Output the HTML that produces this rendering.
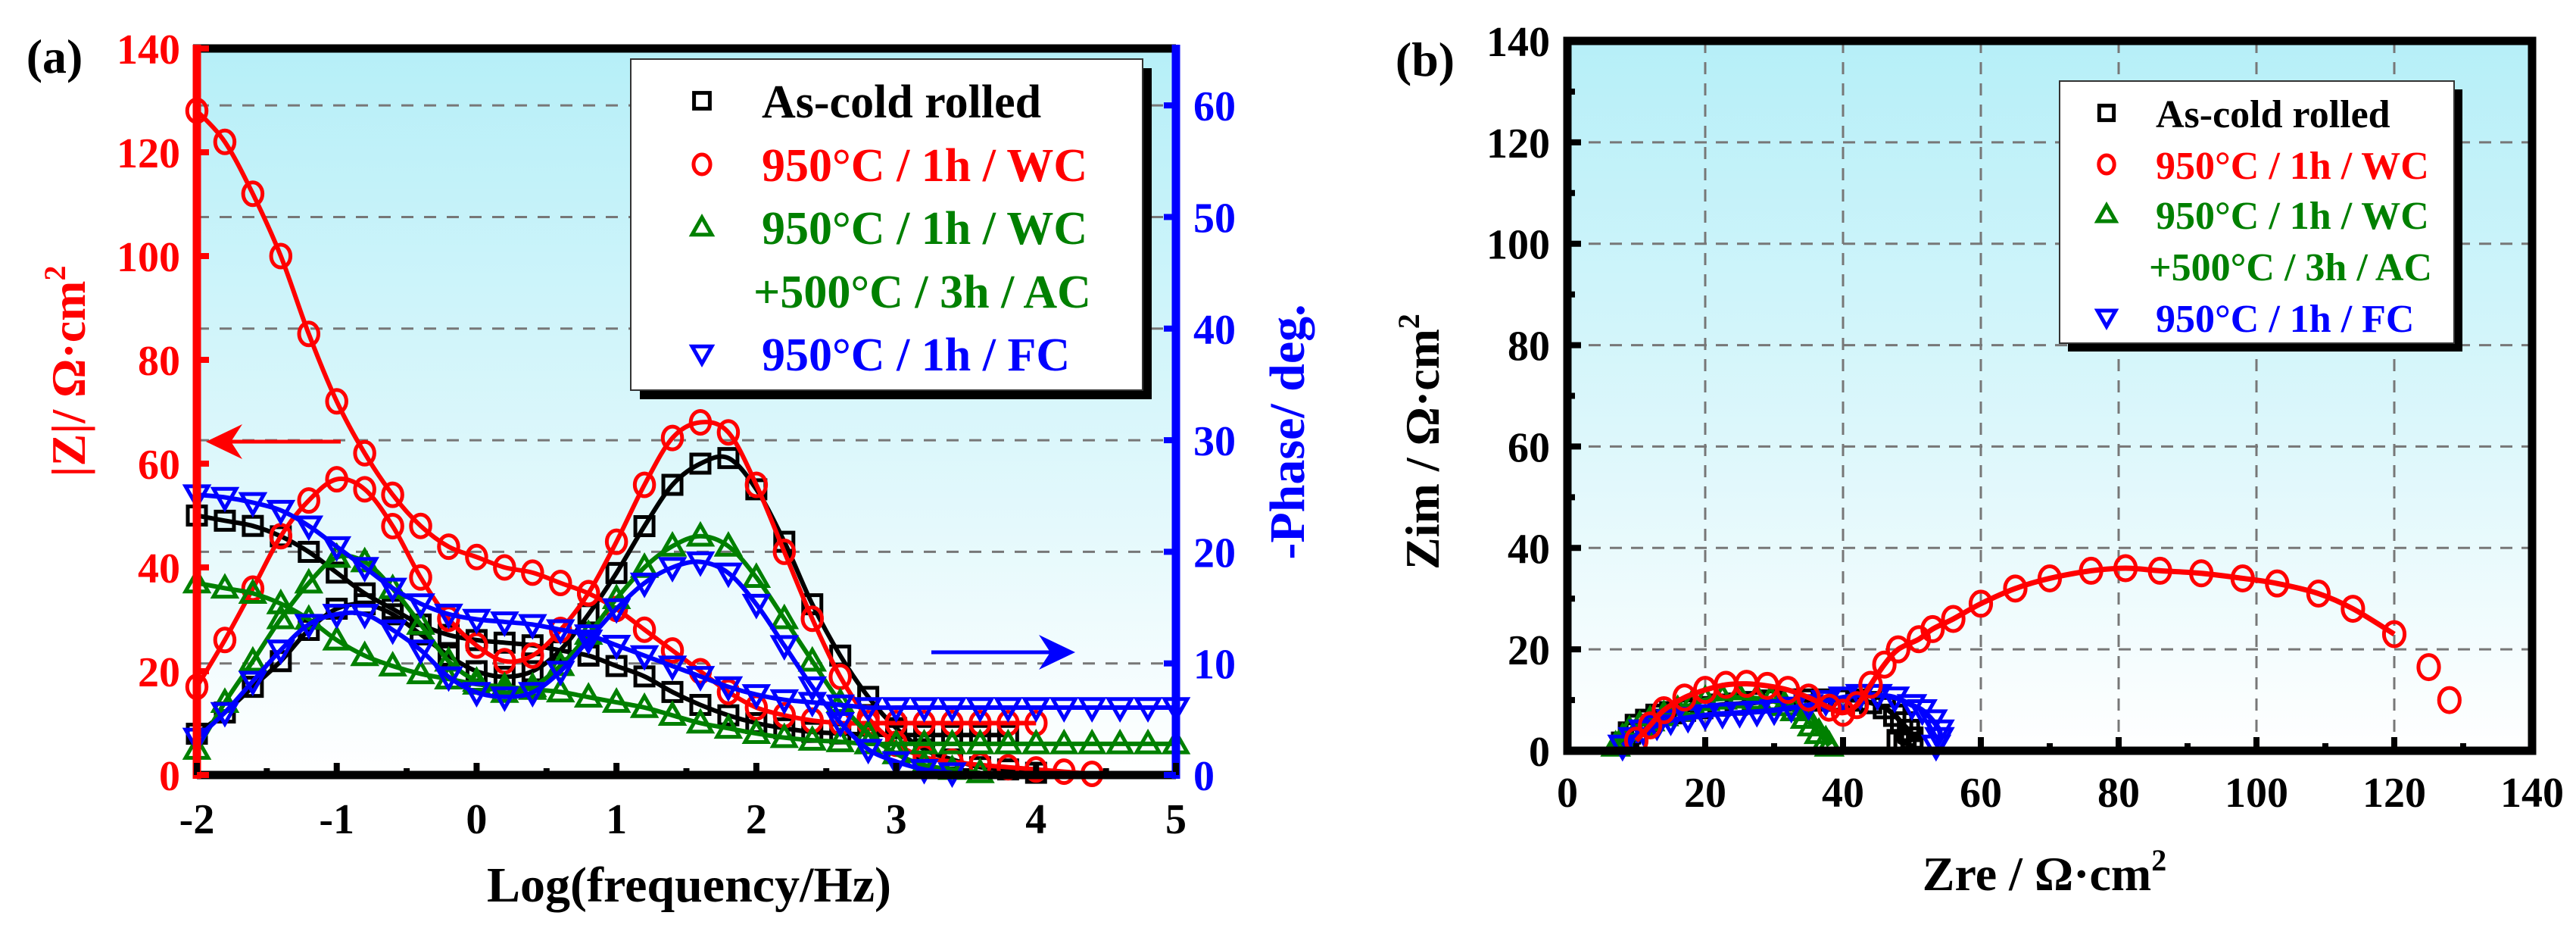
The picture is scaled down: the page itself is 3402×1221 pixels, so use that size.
<!DOCTYPE html>
<html><head><meta charset="utf-8">
<style>
html,body{margin:0;padding:0;background:#fff;}
svg{display:block;font-family:"Liberation Serif",serif;font-weight:bold;}
</style></head>
<body>
<svg id="fig" width="3402" height="1221" viewBox="0 0 3402 1221" xmlns="http://www.w3.org/2000/svg">
<defs>
<linearGradient id="bg" x1="0" y1="0" x2="0" y2="1">
<stop offset="0" stop-color="#b6eff8"/><stop offset="0.55" stop-color="#dcf7fb"/><stop offset="1" stop-color="#ffffff"/>
</linearGradient>
</defs>
</svg>
<script>
// ---------- Panel (a) data ----------
const logF=[-2,-1.8,-1.6,-1.4,-1.2,-1,-0.8,-0.6,-0.4,-0.2,0,0.2,0.4,0.6,0.8,1,1.2,1.4,1.6,1.8,2,2.2,2.4,2.6,2.8,3,3.2,3.4,3.6,3.8,4,4.2,4.4,4.6,4.8,5];
const zRed=[128,122,112,100,85,72,62,54,48,44,42,40,39,37,35,32,28,24,20,16,13,11.5,10.5,10,10,10,10,10,10,10,10];
const zBlack=[50,49,48,46,43,39,35,32,29,27,26,25.5,25,24,23,21,19,16,13.5,11.5,10,9,8.3,8,7.8,7.7,7.7,7.7,7.7,7.7];
const zGreen=[37,36,35,33,30,26,23,21,19.5,18.5,17.5,17,16.5,16,15,14,13,11.5,10,9,8,7.2,6.7,6.4,6,6,6,6,6,6,6,6,6,6,6,6];
const zBlue=[54,53.5,52.5,51,48,44,40,36,33,31,30,29.5,29,28,27,25,23,21,19,17,15.5,14.5,14,13.5,13,13,13,13,13,13,13,13,13,13,13,13];
const phRed=[7.9,12.1,16.7,21.4,24.6,26.5,25.6,22.3,17.7,14,11.6,10.2,10.7,13,16.3,20.9,26,30.2,31.6,30.7,26,20,14,8.8,5.1,2.8,1.6,1.2,0.9,0.7,0.5,0.3,0.1];
const phBlack=[3.7,5.6,7.9,10.2,13,14.9,15.3,14.4,12.6,10.7,9.3,8.8,9.3,11.2,14.4,18.1,22.3,26,27.9,28.4,25.6,20.9,15.3,10.7,7,4.2,2.3,1.4,0.7,0.5,0.2];
const phGreen=[2.3,6.5,10.2,14,17.2,19.5,19.1,16.7,13.5,10.2,8.4,7.4,7.9,9.8,12.6,15.8,18.6,20.5,21.4,20.5,17.7,14,10.2,6.5,3.7,1.9,0.9,0.5,0.2];
const phBlue=[3.3,5.6,8.4,11.2,13.5,14.4,14.4,13,11.2,8.8,7.4,7,7.4,9.3,12.1,14.9,17.2,18.6,19.1,18.1,15.3,11.6,7.9,4.7,2.3,1.2,0.5,0.2];
const xTicksA=[-2,-1,0,1,2,3,4,5];
const zTicks=[0,20,40,60,80,100,120,140];
const phTicks=[0,10,20,30,40,50,60];
// ---------- Panel (b) data ----------
const nyRedRe=[10,12,14,17,20,23,26,29,32,35,38,40,42,44,46,48,51,53,56,60,65,70,76,81,86,92,98,103,109,114,120,125,128];
const nyRedIm=[2,5,8,10.5,12,13,13.2,12.8,12,10.5,8.5,7.5,9,13,17,20,22,24,26,29,32,34,35.5,36,35.5,35,34,33,31,28,23,16.5,10];
const nyBlackRe=[8,9,10,11.5,13,15,17,19.5,22,24.5,27,29.5,32,34.5,37,39.5,42,44,46,47.5,48.5,49.5,50,49,48];
const nyBlackIm=[1.5,3.5,5,6,7,7.5,8,8.5,9,9.2,9.5,9.8,10,10,10,10,10,9.5,8.5,7,5.5,4,2.5,1.5,2];
const nyGreenRe=[7,8,9,10.5,12,14,16,18,20,22.5,25,27.5,29.5,31.5,33,34.5,35.5,36.5,37.5,38];
const nyGreenIm=[1,2.5,4,5,6,7,8,9,10,10.3,10.5,10.3,10,9,8,6.5,5,3.5,2,1];
const nyBlueRe=[8,9.5,11,13,15,17.5,20,22.5,25,27.5,30,32.5,35,37.5,40,42.5,45,47.5,50,51.5,53,54,54,53.5];
const nyBlueIm=[1,2.5,4,5,6,6.5,7,7.3,7.5,7.7,8,8.5,9,9.8,10.5,11,11,10.5,9,8,6,4,2.5,1];
const nyTicks=[0,20,40,60,80,100,120,140];

const NS='http://www.w3.org/2000/svg';
const svg=document.getElementById('fig');
function mk(tag,attrs,parent){const e=document.createElementNS(NS,tag);for(const k in attrs)e.setAttribute(k,attrs[k]);(parent||svg).appendChild(e);return e;}
function txt(s,x,y,size,fill,anchor,parent,extra){const t=mk('text',Object.assign({x:x,y:y,'font-size':size,fill:fill,'text-anchor':anchor||'middle'},extra||{}),parent);t.textContent=s;return t;}
function smooth(pts){if(pts.length<2)return '';let d='M'+pts[0][0]+' '+pts[0][1];for(let i=0;i<pts.length-1;i++){const p0=pts[i-1]||pts[i],p1=pts[i],p2=pts[i+1],p3=pts[i+2]||p2;const c1x=p1[0]+(p2[0]-p0[0])/6,c1y=p1[1]+(p2[1]-p0[1])/6,c2x=p2[0]-(p3[0]-p1[0])/6,c2y=p2[1]-(p3[1]-p1[1])/6;d+=' C'+c1x+' '+c1y+' '+c2x+' '+c2y+' '+p2[0]+' '+p2[1];}return d;}
function marker(type,x,y,r,col,parent){
  const sw=5;
  if(type==='sq')return mk('rect',{x:x-r*0.8,y:y-r*0.8,width:r*1.6,height:r*1.6,fill:'none',stroke:col,'stroke-width':sw},parent);
  if(type==='ci')return mk('ellipse',{cx:x,cy:y,rx:r*0.85,ry:r,fill:'none',stroke:col,'stroke-width':sw},parent);
  if(type==='tu')return mk('polygon',{points:(x)+','+(y-r)+' '+(x+r)+','+(y+r*0.75)+' '+(x-r)+','+(y+r*0.75),fill:'none',stroke:col,'stroke-width':sw},parent);
  return mk('polygon',{points:(x)+','+(y+r)+' '+(x+r)+','+(y-r*0.75)+' '+(x-r)+','+(y-r*0.75),fill:'none',stroke:col,'stroke-width':sw},parent);
}

// ================= Panel (a) =================
const A={l:260,r:1553,t:64,b:1023};
const xA=v=>A.l+(v+2)/7*(A.r-A.l);
const yZ=v=>A.b-v/140*(A.b-A.t);
const yP=v=>A.b-v/65.1*(A.b-A.t);
const gA=mk('g',{});


mk('rect',{x:A.l,y:A.t,width:A.r-A.l,height:A.b-A.t,fill:'url(#bg)'},gA);
const gridA=mk('g',{},gA);


phTicks.forEach(v=>{if(v>0)mk('line',{x1:A.l,x2:A.r,y1:yP(v),y2:yP(v),stroke:'#777','stroke-width':3,'stroke-dasharray':'16 14'},gridA);});

const seriesA=[
 {name:'as-cold-rolled',col:'#000',m:'sq',z:zBlack,p:phBlack},
 {name:'wc-950',col:'#f00',m:'ci',z:zRed,p:phRed},
 {name:'wc-950-ac-500',col:'#008000',m:'tu',z:zGreen,p:phGreen},
 {name:'fc-950',col:'#00f',m:'td',z:zBlue,p:phBlue}
];
seriesA.forEach(s=>{
  const g=mk('g',{},gA);
  
  
  const zp=s.z.map((v,i)=>[xA(logF[i]),yZ(v)]);
  const pp=s.p.map((v,i)=>[xA(logF[i]),yP(v)]);
  zp.forEach(p=>{const m=marker(s.m,p[0],p[1],15,s.col,g);});
  pp.forEach(p=>{const m=marker(s.m,p[0],p[1],15,s.col,g);});
  const l1=mk('path',{d:smooth(zp),fill:'none',stroke:s.col,'stroke-width':6},g);
  
  
  const l2=mk('path',{d:smooth(pp),fill:'none',stroke:s.col,'stroke-width':6},g);
  
  
});
mk('line',{x1:A.l-5,x2:A.r,y1:A.t,y2:A.t,stroke:'#000','stroke-width':11},gA);
mk('line',{x1:A.l,x2:A.r,y1:A.b,y2:A.b,stroke:'#000','stroke-width':11},gA);
const la=mk('line',{x1:A.l,x2:A.l,y1:A.t-5,y2:A.b+5,stroke:'#f00','stroke-width':11},gA);


const ra=mk('line',{x1:A.r,x2:A.r,y1:A.t-5,y2:A.b+5,stroke:'#00f','stroke-width':11},gA);


for(let v=-2;v<=5;v+=0.5){const x=xA(v);const len=(v%1===0)?16:9;mk('line',{x1:x,x2:x,y1:A.b,y2:A.b-len,stroke:'#000','stroke-width':8},gA);}
zTicks.forEach(v=>{mk('line',{x1:A.l,x2:A.l+16,y1:yZ(v),y2:yZ(v),stroke:'#f00','stroke-width':8},gA);
  const t=txt(String(v),238,yZ(v)+20,56,'#f00','end',gA);});
phTicks.forEach(v=>{mk('line',{x1:A.r-16,x2:A.r,y1:yP(v),y2:yP(v),stroke:'#00f','stroke-width':8},gA);
  const t=txt(String(v),1576,yP(v)+20,56,'#00f','start',gA);});
xTicksA.forEach(v=>{const t=txt(String(v),xA(v),1100,56,'#000','middle',gA);});
const arL=mk('g',{},gA);


mk('line',{x1:300,x2:450,y1:583,y2:583,stroke:'#f00','stroke-width':5},arL);
mk('polygon',{points:'272,583 320,560 305,583 320,606',fill:'#f00'},arL);
const arR=mk('g',{},gA);


mk('line',{x1:1230,x2:1390,y1:861,y2:861,stroke:'#00f','stroke-width':5},arR);
mk('polygon',{points:'1420,861 1372,838 1387,861 1372,884',fill:'#00f'},arR);
let t;
t=txt('(a)',72,96,64,'#000','middle',gA);
t=txt('Log(frequency/Hz)',910,1190,66,'#000','middle',gA);
t=mk('text',{x:0,y:0,'font-size':64,fill:'#f00','text-anchor':'middle',transform:'translate(112,490) rotate(-90)'},gA);
t.innerHTML='|Z|/ Ω·cm<tspan font-size="40" dy="-26">2</tspan>';

t=txt('-Phase/ deg.',0,0,66,'#00f','middle',gA,{transform:'translate(1722,570) rotate(-90)'});

const legA=mk('g',{},gA);


mk('rect',{x:845,y:90,width:676,height:437,fill:'#000'},legA);
mk('rect',{x:833,y:78,width:676,height:437,fill:'#fff',stroke:'#333','stroke-width':2},legA);
const legItems=[['As-cold rolled','#000','sq'],['950°C / 1h / WC','#f00','ci'],['950°C / 1h / WC','#008000','tu'],['+500°C / 3h / AC','#008000',null],['950°C / 1h / FC','#00f','td']];
const legAy=[133,217,300,384,467];
legItems.forEach((it,i)=>{const g=mk('g',{},legA);
  if(it[2])marker(it[2],927,legAy[i],13,it[1],g);
  txt(it[0],it[2]?1006:995,legAy[i]+22,62,it[1],'start',g);});

// ================= Panel (b) =================
const B={l:2070,r:3344,t:54,b:991};
const xB=v=>B.l+v/140*(B.r-B.l);
const yB=v=>B.b-v/140*(B.b-B.t);
const gB=mk('g',{});


mk('rect',{x:B.l,y:B.t,width:B.r-B.l,height:B.b-B.t,fill:'url(#bg)'},gB);
const gridB=mk('g',{},gB);


nyTicks.forEach(v=>{if(v>0&&v<140){mk('line',{x1:B.l,x2:B.r,y1:yB(v),y2:yB(v),stroke:'#777','stroke-width':3,'stroke-dasharray':'16 12'},gridB);
  mk('line',{x1:xB(v),x2:xB(v),y1:B.t,y2:B.b,stroke:'#777','stroke-width':3,'stroke-dasharray':'16 12'},gridB);}});
const seriesB=[
 {name:'as-cold-rolled',col:'#000',m:'sq',re:nyBlackRe,im:nyBlackIm},
 {name:'wc-950-ac-500',col:'#008000',m:'tu',re:nyGreenRe,im:nyGreenIm},
 {name:'fc-950',col:'#00f',m:'td',re:nyBlueRe,im:nyBlueIm},
 {name:'wc-950',col:'#f00',m:'ci',re:nyRedRe,im:nyRedIm}
];
seriesB.forEach(s=>{
  const g=mk('g',{},gB);
  
  
  const pts=s.re.map((v,i)=>[xB(v),yB(s.im[i])]);
  pts.forEach(p=>{const m=marker(s.m,p[0],p[1],16,s.col,g);});
  const fitPts=s.name==='wc-950'?pts.slice(0,pts.length-2):pts;
  const l=mk('path',{d:smooth(fitPts),fill:'none',stroke:s.col,'stroke-width':7},g);
  
  
});
mk('rect',{x:B.l,y:B.t,width:B.r-B.l,height:B.b-B.t,fill:'none',stroke:'#000','stroke-width':11},gB);
for(let v=0;v<=140;v+=10){const len=(v%20===0)?18:10;
  mk('line',{x1:B.l,x2:B.l+len,y1:yB(v),y2:yB(v),stroke:'#000','stroke-width':8},gB);
  mk('line',{x1:xB(v),x2:xB(v),y1:B.b,y2:B.b-len,stroke:'#000','stroke-width':8},gB);}
nyTicks.forEach(v=>{
  let t1=txt(String(v),2047,yB(v)+20,56,'#000','end',gB);
  let t2=txt(String(v),xB(v),1065,56,'#000','middle',gB);});
t=txt('(b)',1882,100,64,'#000','middle',gB);
t=mk('text',{x:2700,y:1175,'font-size':64,fill:'#000','text-anchor':'middle'},gB);
t.innerHTML='Zre / Ω·cm<tspan font-size="40" dy="-26">2</tspan>';

t=mk('text',{x:0,y:0,'font-size':64,fill:'#000','text-anchor':'middle',transform:'translate(1900,583) rotate(-90)'},gB);
t.innerHTML='Zim / Ω·cm<tspan font-size="40" dy="-26">2</tspan>';

const legB=mk('g',{},gB);


mk('rect',{x:2731,y:118,width:521,height:346,fill:'#000'},legB);
mk('rect',{x:2720,y:107,width:521,height:346,fill:'#fff',stroke:'#333','stroke-width':2},legB);
const legBy=[149,217,283,351,419];
legItems.forEach((it,i)=>{const g=mk('g',{},legB);
  if(it[2])marker(it[2],2782,legBy[i],12,it[1],g);
  txt(it[0],it[2]?2847:2838,legBy[i]+19,52,it[1],'start',g);});
</script>
</body></html>
